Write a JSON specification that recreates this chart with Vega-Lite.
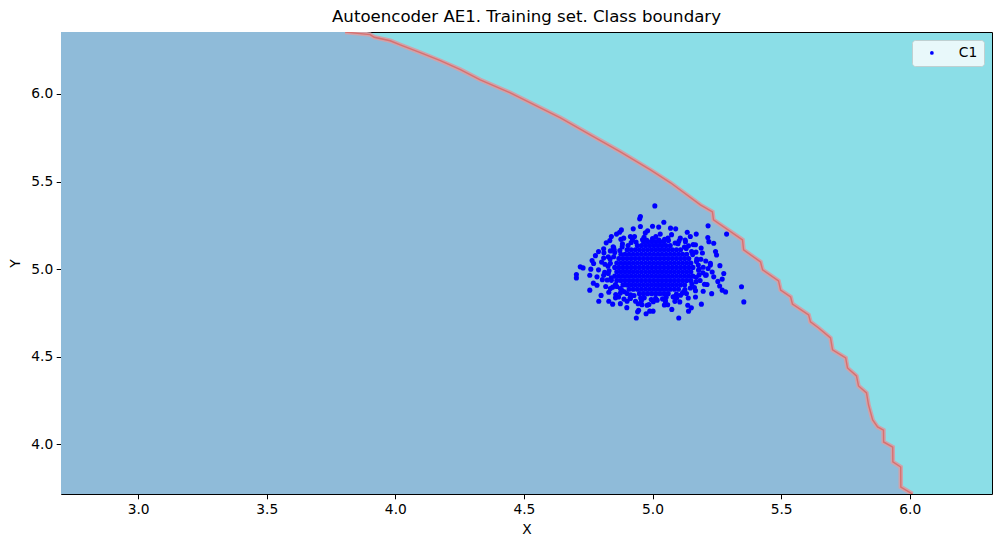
{
"$schema": "https://vega.github.io/schema/vega-lite/v6.json",
"width": 931, "height": 462,
"autosize": {"type": "none"},
"padding": {"left": 61, "top": 32, "right": 9, "bottom": 53},
"background": "white",
"title": {"text": "Autoencoder AE1. Training set. Class boundary", "fontSize": 16.6, "font": "DejaVu Sans", "fontWeight": "normal", "color": "black", "offset": 8, "anchor": "middle", "baseline": "alphabetic", "dy": 15},
"config": {
 "view": {"fill": "#8bdee7", "stroke": null},
 "font": "DejaVu Sans",
 "axis": {"grid": false, "domainColor": "black", "domainWidth": 1, "tickColor": "black", "tickWidth": 1, "tickSize": 4.8, "labelPadding": 3.5, "labelFontSize": 13.8, "labelColor": "black", "labelFont": "DejaVu Sans", "titleFont": "DejaVu Sans", "titleFontSize": 13.8, "titleFontWeight": "normal", "titleColor": "black", "zindex": 1, "labelFlush": false, "labelOverlap": false}
},
"datasets": {
 "boundary": [
  {"i":0,"x":2.7,"y":6.354},{"i":1,"x":3.805,"y":6.354},{"i":2,"x":3.902,"y":6.339},{"i":3,"x":3.918,"y":6.324},{"i":4,"x":3.980,"y":6.304},{"i":5,"x":4.019,"y":6.281},{"i":6,"x":4.097,"y":6.236},{"i":7,"x":4.175,"y":6.190},{"i":8,"x":4.253,"y":6.139},{"i":9,"x":4.330,"y":6.081},{"i":10,"x":4.447,"y":6.007},{"i":11,"x":4.525,"y":5.950},{"i":12,"x":4.642,"y":5.864},{"i":13,"x":4.758,"y":5.767},{"i":14,"x":4.875,"y":5.670},{"i":15,"x":4.992,"y":5.567},{"i":16,"x":5.070,"y":5.493},{"i":17,"x":5.186,"y":5.367},{"i":18,"x":5.233,"y":5.327},{"i":19,"x":5.237,"y":5.281},{"i":20,"x":5.350,"y":5.167},{"i":21,"x":5.354,"y":5.110},{"i":22,"x":5.420,"y":5.041},{"i":23,"x":5.428,"y":4.996},{"i":24,"x":5.490,"y":4.933},{"i":25,"x":5.498,"y":4.881},{"i":26,"x":5.537,"y":4.841},{"i":27,"x":5.544,"y":4.801},{"i":28,"x":5.607,"y":4.739},{"i":29,"x":5.614,"y":4.699},{"i":30,"x":5.646,"y":4.664},{"i":31,"x":5.692,"y":4.607},{"i":32,"x":5.700,"y":4.539},{"i":33,"x":5.751,"y":4.493},{"i":34,"x":5.758,"y":4.436},{"i":35,"x":5.793,"y":4.390},{"i":36,"x":5.801,"y":4.333},{"i":37,"x":5.832,"y":4.293},{"i":38,"x":5.840,"y":4.224},{"i":39,"x":5.856,"y":4.139},{"i":40,"x":5.875,"y":4.099},{"i":41,"x":5.898,"y":4.081},{"i":42,"x":5.8985,"y":4.013},{"i":43,"x":5.934,"y":3.984},{"i":44,"x":5.9345,"y":3.899},{"i":45,"x":5.965,"y":3.870},{"i":46,"x":5.9655,"y":3.756},{"i":47,"x":6.011,"y":3.716}
 ],
 "points": [
  {"x":4.949,"y":4.86},{"x":4.965,"y":4.86},{"x":4.981,"y":4.86},{"x":4.997,"y":4.86},{"x":5.013,"y":4.86},{"x":5.029,"y":4.86},{"x":5.045,"y":4.86},{"x":5.061,"y":4.86},
  {"x":4.909,"y":4.885},{"x":4.925,"y":4.885},{"x":4.941,"y":4.885},{"x":4.957,"y":4.885},{"x":4.973,"y":4.885},{"x":4.989,"y":4.885},{"x":5.005,"y":4.885},{"x":5.021,"y":4.885},{"x":5.037,"y":4.885},{"x":5.053,"y":4.885},{"x":5.069,"y":4.885},{"x":5.085,"y":4.885},{"x":5.101,"y":4.885},
  {"x":4.885,"y":4.91},{"x":4.901,"y":4.91},{"x":4.917,"y":4.91},{"x":4.933,"y":4.91},{"x":4.949,"y":4.91},{"x":4.965,"y":4.91},{"x":4.981,"y":4.91},{"x":4.997,"y":4.91},{"x":5.013,"y":4.91},{"x":5.029,"y":4.91},{"x":5.045,"y":4.91},{"x":5.061,"y":4.91},{"x":5.077,"y":4.91},{"x":5.093,"y":4.91},{"x":5.109,"y":4.91},{"x":5.125,"y":4.91},
  {"x":4.861,"y":4.935},{"x":4.877,"y":4.935},{"x":4.893,"y":4.935},{"x":4.909,"y":4.935},{"x":4.925,"y":4.935},{"x":4.941,"y":4.935},{"x":4.957,"y":4.935},{"x":4.973,"y":4.935},{"x":4.989,"y":4.935},{"x":5.005,"y":4.935},{"x":5.021,"y":4.935},{"x":5.037,"y":4.935},{"x":5.053,"y":4.935},{"x":5.069,"y":4.935},{"x":5.085,"y":4.935},{"x":5.101,"y":4.935},{"x":5.117,"y":4.935},{"x":5.133,"y":4.935},{"x":5.149,"y":4.935},
  {"x":4.853,"y":4.96},{"x":4.869,"y":4.96},{"x":4.885,"y":4.96},{"x":4.901,"y":4.96},{"x":4.917,"y":4.96},{"x":4.933,"y":4.96},{"x":4.949,"y":4.96},{"x":4.965,"y":4.96},{"x":4.981,"y":4.96},{"x":4.997,"y":4.96},{"x":5.013,"y":4.96},{"x":5.029,"y":4.96},{"x":5.045,"y":4.96},{"x":5.061,"y":4.96},{"x":5.077,"y":4.96},{"x":5.093,"y":4.96},{"x":5.109,"y":4.96},{"x":5.125,"y":4.96},{"x":5.141,"y":4.96},{"x":5.157,"y":4.96},
  {"x":4.861,"y":4.985},{"x":4.877,"y":4.985},{"x":4.893,"y":4.985},{"x":4.909,"y":4.985},{"x":4.925,"y":4.985},{"x":4.941,"y":4.985},{"x":4.957,"y":4.985},{"x":4.973,"y":4.985},{"x":4.989,"y":4.985},{"x":5.005,"y":4.985},{"x":5.021,"y":4.985},{"x":5.037,"y":4.985},{"x":5.053,"y":4.985},{"x":5.069,"y":4.985},{"x":5.085,"y":4.985},{"x":5.101,"y":4.985},{"x":5.117,"y":4.985},{"x":5.133,"y":4.985},{"x":5.149,"y":4.985},
  {"x":4.853,"y":5.01},{"x":4.869,"y":5.01},{"x":4.885,"y":5.01},{"x":4.901,"y":5.01},{"x":4.917,"y":5.01},{"x":4.933,"y":5.01},{"x":4.949,"y":5.01},{"x":4.965,"y":5.01},{"x":4.981,"y":5.01},{"x":4.997,"y":5.01},{"x":5.013,"y":5.01},{"x":5.029,"y":5.01},{"x":5.045,"y":5.01},{"x":5.061,"y":5.01},{"x":5.077,"y":5.01},{"x":5.093,"y":5.01},{"x":5.109,"y":5.01},{"x":5.125,"y":5.01},{"x":5.141,"y":5.01},{"x":5.157,"y":5.01},
  {"x":4.861,"y":5.035},{"x":4.877,"y":5.035},{"x":4.893,"y":5.035},{"x":4.909,"y":5.035},{"x":4.925,"y":5.035},{"x":4.941,"y":5.035},{"x":4.957,"y":5.035},{"x":4.973,"y":5.035},{"x":4.989,"y":5.035},{"x":5.005,"y":5.035},{"x":5.021,"y":5.035},{"x":5.037,"y":5.035},{"x":5.053,"y":5.035},{"x":5.069,"y":5.035},{"x":5.085,"y":5.035},{"x":5.101,"y":5.035},{"x":5.117,"y":5.035},{"x":5.133,"y":5.035},{"x":5.149,"y":5.035},
  {"x":4.869,"y":5.06},{"x":4.885,"y":5.06},{"x":4.901,"y":5.06},{"x":4.917,"y":5.06},{"x":4.933,"y":5.06},{"x":4.949,"y":5.06},{"x":4.965,"y":5.06},{"x":4.981,"y":5.06},{"x":4.997,"y":5.06},{"x":5.013,"y":5.06},{"x":5.029,"y":5.06},{"x":5.045,"y":5.06},{"x":5.061,"y":5.06},{"x":5.077,"y":5.06},{"x":5.093,"y":5.06},{"x":5.109,"y":5.06},{"x":5.125,"y":5.06},{"x":5.141,"y":5.06},
  {"x":4.877,"y":5.085},{"x":4.893,"y":5.085},{"x":4.909,"y":5.085},{"x":4.925,"y":5.085},{"x":4.941,"y":5.085},{"x":4.957,"y":5.085},{"x":4.973,"y":5.085},{"x":4.989,"y":5.085},{"x":5.005,"y":5.085},{"x":5.021,"y":5.085},{"x":5.037,"y":5.085},{"x":5.053,"y":5.085},{"x":5.069,"y":5.085},{"x":5.085,"y":5.085},{"x":5.101,"y":5.085},{"x":5.117,"y":5.085},{"x":5.133,"y":5.085},
  {"x":4.901,"y":5.11},{"x":4.917,"y":5.11},{"x":4.933,"y":5.11},{"x":4.949,"y":5.11},{"x":4.965,"y":5.11},{"x":4.981,"y":5.11},{"x":4.997,"y":5.11},{"x":5.013,"y":5.11},{"x":5.029,"y":5.11},{"x":5.045,"y":5.11},{"x":5.061,"y":5.11},{"x":5.077,"y":5.11},{"x":5.093,"y":5.11},{"x":5.109,"y":5.11},
  {"x":4.941,"y":5.135},{"x":4.957,"y":5.135},{"x":4.973,"y":5.135},{"x":4.989,"y":5.135},{"x":5.005,"y":5.135},{"x":5.021,"y":5.135},{"x":5.037,"y":5.135},{"x":5.053,"y":5.135},{"x":5.069,"y":5.135},
  {"x":4.965,"y":5.158},{"x":4.981,"y":5.158},{"x":4.997,"y":5.158},{"x":5.013,"y":5.158},{"x":5.029,"y":5.158},{"x":5.045,"y":5.158},
  {"x":5.181,"y":5.0},{"x":5.178,"y":5.024},{"x":5.171,"y":5.044},{"x":5.172,"y":5.058},{"x":5.156,"y":5.083},{"x":5.152,"y":5.101},{"x":5.131,"y":5.118},{"x":5.124,"y":5.126},{"x":5.099,"y":5.145},{"x":5.088,"y":5.149},{"x":5.062,"y":5.163},{"x":5.047,"y":5.171},{"x":5.025,"y":5.166},{"x":5.0,"y":5.174},{"x":4.978,"y":5.165},{"x":4.961,"y":5.168},{"x":4.936,"y":5.155},{"x":4.917,"y":5.152},{"x":4.905,"y":5.135},{"x":4.882,"y":5.127},{"x":4.873,"y":5.106},{"x":4.853,"y":5.095},{"x":4.849,"y":5.071},{"x":4.835,"y":5.058},{"x":4.836,"y":5.033},{"x":4.827,"y":5.017},{"x":4.831,"y":4.991},{"x":4.828,"y":4.975},{"x":4.839,"y":4.95},{"x":4.84,"y":4.936},{"x":4.856,"y":4.912},{"x":4.861,"y":4.901},{"x":4.881,"y":4.879},{"x":4.891,"y":4.871},{"x":4.915,"y":4.853},{"x":4.928,"y":4.849},{"x":4.954,"y":4.835},{"x":4.968,"y":4.836},{"x":4.995,"y":4.827},{"x":5.012,"y":4.833},{"x":5.039,"y":4.83},{"x":5.053,"y":4.84},{"x":5.08,"y":4.842},{"x":5.093,"y":4.857},{"x":5.116,"y":4.863},{"x":5.126,"y":4.883},{"x":5.147,"y":4.892},{"x":5.153,"y":4.915},{"x":5.169,"y":4.928},{"x":5.17,"y":4.953},{"x":5.181,"y":4.967},{"x":5.179,"y":4.994},
  {"x":5.197,"y":5.011},{"x":5.188,"y":5.056},{"x":5.169,"y":5.097},{"x":5.14,"y":5.133},{"x":5.103,"y":5.16},{"x":5.06,"y":5.178},{"x":5.013,"y":5.186},{"x":4.967,"y":5.182},{"x":4.922,"y":5.168},{"x":4.883,"y":5.144},{"x":4.851,"y":5.111},{"x":4.828,"y":5.071},{"x":4.815,"y":5.028},{"x":4.814,"y":4.982},{"x":4.824,"y":4.938},{"x":4.845,"y":4.897},{"x":4.875,"y":4.863},{"x":4.913,"y":4.837},{"x":4.957,"y":4.82},{"x":5.003,"y":4.814},{"x":5.05,"y":4.819},{"x":5.094,"y":4.835},{"x":5.132,"y":4.861},{"x":5.163,"y":4.895},{"x":5.185,"y":4.935},{"x":5.196,"y":4.979},
  {"x":5.216,"y":5.004},{"x":5.207,"y":5.046},{"x":5.194,"y":5.092},{"x":5.158,"y":5.14},{"x":5.127,"y":5.166},{"x":5.074,"y":5.197},{"x":5.03,"y":5.2},{"x":4.972,"y":5.207},{"x":4.93,"y":5.186},{"x":4.877,"y":5.17},{"x":4.847,"y":5.128},{"x":4.811,"y":5.093},{"x":4.802,"y":5.04},{"x":4.79,"y":4.996},{"x":4.805,"y":4.94},{"x":4.818,"y":4.901},{"x":4.857,"y":4.855},{"x":4.889,"y":4.829},{"x":4.944,"y":4.802},{"x":4.986,"y":4.798},{"x":5.046,"y":4.795},{"x":5.087,"y":4.816},{"x":5.139,"y":4.835},{"x":5.167,"y":4.877},{"x":5.202,"y":4.914},{"x":5.209,"y":4.967},
  {"x":5.245,"y":5.1},{"x":5.262,"y":5.02},{"x":5.254,"y":4.93},{"x":5.23,"y":4.86},{"x":5.19,"y":4.8},{"x":5.14,"y":4.76},{"x":5.075,"y":4.77},{"x":4.975,"y":4.745},{"x":4.9,"y":4.78},{"x":4.845,"y":4.8},{"x":4.8,"y":4.85},{"x":4.77,"y":4.92},{"x":4.76,"y":5.0},{"x":4.79,"y":5.1},{"x":4.82,"y":5.15},{"x":4.86,"y":5.2},{"x":4.925,"y":5.23},{"x":5.0,"y":5.245},{"x":5.09,"y":5.23},{"x":5.17,"y":5.2},{"x":5.215,"y":5.18},
  {"x":5.009,"y":5.361},{"x":4.953,"y":5.3},{"x":4.95,"y":5.287},{"x":4.879,"y":5.224},{"x":4.872,"y":5.211},{"x":4.84,"y":5.186},{"x":4.834,"y":5.163},{"x":4.81,"y":5.116},{"x":4.778,"y":5.077},{"x":4.765,"y":5.049},{"x":4.953,"y":5.243},{"x":4.981,"y":5.219},{"x":5.024,"y":5.24},{"x":4.888,"y":5.177},{"x":4.849,"y":5.123},{"x":4.836,"y":5.104},{"x":4.81,"y":5.063},{"x":4.914,"y":5.186},
  {"x":5.216,"y":5.247},{"x":5.288,"y":5.2},{"x":5.219,"y":5.157},{"x":5.238,"y":5.148},{"x":5.249,"y":5.081},{"x":5.147,"y":5.186},{"x":5.135,"y":5.211},{"x":5.044,"y":5.268},{"x":5.189,"y":5.12},{"x":5.167,"y":5.139},{"x":5.225,"y":5.034},{"x":5.128,"y":5.157},{"x":5.108,"y":5.177},{"x":5.07,"y":5.234},
  {"x":4.719,"y":5.013},{"x":4.73,"y":5.007},{"x":4.704,"y":4.969},{"x":4.704,"y":4.95},{"x":4.756,"y":4.965},{"x":4.756,"y":4.88},{"x":4.791,"y":4.817},{"x":4.83,"y":4.817},{"x":4.856,"y":4.836},{"x":4.875,"y":4.803},{"x":4.901,"y":4.817},{"x":4.946,"y":4.765},{"x":4.942,"y":4.756},{"x":4.937,"y":4.721},{"x":4.989,"y":4.76},{"x":5.002,"y":4.76},{"x":4.959,"y":4.797},{"x":4.979,"y":4.794},{"x":4.771,"y":5.032},{"x":4.784,"y":4.956},{"x":4.784,"y":4.908},{"x":4.81,"y":4.965},{"x":4.836,"y":4.889},{"x":4.83,"y":4.868},{"x":4.868,"y":4.841},{"x":4.914,"y":4.832},{"x":4.934,"y":4.817},{"x":4.875,"y":4.889},{"x":4.901,"y":4.861},{"x":5.018,"y":4.823},
  {"x":5.225,"y":5.023},{"x":5.277,"y":4.975},{"x":5.271,"y":4.943},{"x":5.261,"y":4.904},{"x":5.271,"y":4.88},{"x":5.284,"y":4.87},{"x":5.346,"y":4.899},{"x":5.355,"y":4.813},{"x":5.212,"y":4.912},{"x":5.197,"y":4.874},{"x":5.167,"y":4.841},{"x":5.151,"y":4.779},{"x":5.137,"y":4.794},{"x":5.106,"y":4.813},{"x":5.102,"y":4.721},{"x":5.059,"y":4.797},{"x":5.05,"y":4.817},{"x":5.238,"y":4.956},{"x":5.232,"y":4.984},{"x":5.206,"y":4.965},{"x":5.121,"y":4.87},{"x":5.109,"y":4.851},{"x":5.083,"y":4.841}
 ]
},
"layer": [
 {"data": {"name": "boundary"},
  "mark": {"type": "area", "fill": "#8fbbd9", "fillOpacity": 1, "interpolate": "linear", "clip": true},
  "encoding": {
   "x": {"field": "x", "type": "quantitative", "scale": {"domain": [2.7, 6.32], "nice": false, "zero": false}, "axis": null},
   "y": {"field": "y", "type": "quantitative", "stack": null, "scale": {"domain": [3.716, 6.354], "nice": false, "zero": false}, "axis": null}
  }},
 {"data": {"name": "boundary"},
  "transform": [{"filter": "datum.i > 0"}],
  "mark": {"type": "line", "color": "#cfa3ab", "strokeWidth": 4.5, "clip": true},
  "encoding": {
   "x": {"field": "x", "type": "quantitative", "axis": {"orient": "top", "labels": false, "ticks": false, "title": null, "domain": true, "minExtent": 0, "maxExtent": 0}},
   "y": {"field": "y", "type": "quantitative", "axis": {"orient": "right", "labels": false, "ticks": false, "title": null, "domain": true, "minExtent": 0, "maxExtent": 0}},
   "order": {"field": "i", "type": "quantitative"}
  }},
 {"data": {"name": "boundary"},
  "transform": [{"filter": "datum.i > 0"}],
  "mark": {"type": "line", "color": "#d8706f", "strokeWidth": 1.4, "clip": true},
  "encoding": {
   "x": {"field": "x", "type": "quantitative", "axis": null},
   "y": {"field": "y", "type": "quantitative", "axis": null},
   "order": {"field": "i", "type": "quantitative"}
  }},
 {"data": {"name": "points"},
  "mark": {"type": "point", "filled": true, "size": 26, "opacity": 1, "strokeWidth": 0, "clip": true},
  "encoding": {
   "x": {"field": "x", "type": "quantitative", "axis": {"orient": "bottom", "values": [3, 3.5, 4, 4.5, 5, 5.5, 6], "format": ".1f", "title": "X", "titlePadding": 6}},
   "y": {"field": "y", "type": "quantitative", "axis": {"orient": "left", "values": [4, 4.5, 5, 5.5, 6], "format": ".1f", "title": "Y", "titlePadding": 8}},
   "color": {"datum": "C1", "type": "nominal", "scale": {"range": ["#0000ff"]},
    "legend": {"title": null, "orient": "top-right", "offset": 8, "fillColor": "#e8f8fa", "strokeColor": "#bfd0d1", "cornerRadius": 3, "padding": 6, "symbolType": "circle", "symbolSize": 14, "symbolOffset": 7, "labelOffset": 20, "labelFontSize": 13.8, "labelFont": "DejaVu Sans", "labelColor": "black", "symbolStrokeWidth": 0}}
  }}
],
"resolve": {"axis": {"x": "independent", "y": "independent"}}
}
